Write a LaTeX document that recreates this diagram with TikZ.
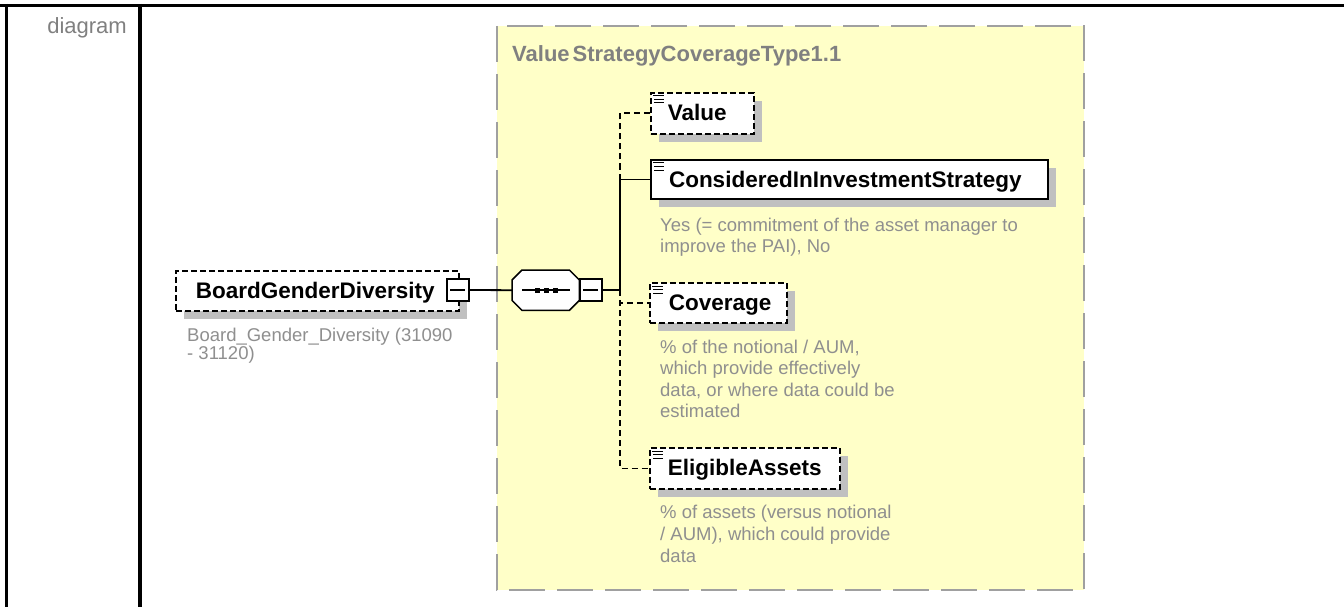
\documentclass[tikz,border=0pt]{standalone}
\usepackage{fontspec}
\setmainfont{Liberation Sans}
\usetikzlibrary{calc,shadows}
\definecolor{typebg}{RGB}{255,255,200}
\definecolor{typeborder}{RGB}{160,160,160}
\definecolor{desctext}{RGB}{143,143,143}
\definecolor{titlegray}{RGB}{128,128,128}
\definecolor{shadowgray}{RGB}{192,192,192}
\newcommand\contenticon[1]{%
  \draw[line width=1pt] ($(#1.north west)+(3,4)$) -- ++(11,0)
    ($(#1.north west)+(4,7.5)$) -- ++(10,0)
    ($(#1.north west)+(4,11)$) -- ++(10,0);}
\newcommand\minusdeco[1]{%
  \draw[line width=2.5pt] ([xshift=-1pt]#1.north east) -- ([xshift=-1pt,yshift=1pt]#1.south east) -- ([yshift=1pt]#1.south west);
  \draw[line width=1.2pt] ($(#1.west)+(4,0)$) -- ($(#1.east)+(-5,0)$);}
\begin{document}
\begin{tikzpicture}[x=1pt,y=-1pt,
  elembox/.style={draw, fill=white, anchor=north west, inner ysep=0pt, align=left,
    text height=16pt, text depth=1pt, font=\fontsize{22.5}{26}\selectfont\bfseries,
    drop shadow={shadow xshift=8pt, shadow yshift=-8pt, fill=shadowgray, opacity=1}},
  optbox/.style={elembox, line width=1.8pt, dash pattern=on 6pt off 3pt},
  reqbox/.style={elembox, line width=2pt},
  minusbox/.style={draw, fill=white, line width=1.5pt, minimum size=22pt, inner sep=0pt},
  conn/.style={line width=1.8pt},
  optconn/.style={line width=1.8pt, dash pattern=on 6pt off 4pt},
  desc/.style={anchor=north west, inner sep=0pt, align=left, text=desctext},
  frameline/.style={line width=3.5pt}
]
\useasboundingbox (0,0) rectangle (1344,607);
\fill[white] (0,0) rectangle (1344,607);
% table frame
\draw[frameline] (0,5.5) -- (1344,5.5);
\draw[frameline] (6.5,4) -- (6.5,607);
\draw[frameline] (140,4) -- (140,607);
\node[anchor=base east, text=titlegray, font=\fontsize{22}{26}\selectfont, inner sep=0pt] (lbl) at (127,33.5) {diagram};
% complex type box
\draw[fill=typebg, draw=typeborder, line width=2.5pt, dash pattern=on 36pt off 12pt] (497,26) rectangle (1084,590);
\node[anchor=base west, inner sep=0pt, text=titlegray, font=\fontsize{22}{26}\selectfont\bfseries] (title) at (512,62) {Value\kern3pt StrategyCoverageType1.1};
% root element
\node[optbox, text width=243pt, inner xsep=20pt, minimum height=40pt] (board) at (175,270) {BoardGenderDiversity};
\node[minusbox] (bmin) at (458,290) {};
\minusdeco{bmin}
\node[desc, font=\fontsize{18.5}{18.5}\selectfont] (bdesc) at (187,327.5) {Board\_Gender\_Diversity (31090\\- 31120)};
% sequence
\node[minimum width=67pt, minimum height=40pt, inner sep=0pt, anchor=north west] (seq) at (512,270) {};
\begin{scope}[shift={(8,8)}]
\fill[shadowgray] ($(seq.north west)+(10,0)$) -- ($(seq.north east)+(-10,0)$) -- ($(seq.north east)+(0,10)$) -- ($(seq.south east)+(0,-10)$) -- ($(seq.south east)+(-10,0)$) -- ($(seq.south west)+(10,0)$) -- ($(seq.south west)+(0,-10)$) -- ($(seq.north west)+(0,10)$) -- cycle;
\end{scope}
\draw[fill=white, line width=1.5pt] ($(seq.north west)+(10,0)$) -- ($(seq.north east)+(-10,0)$) -- ($(seq.north east)+(0,10)$) -- ($(seq.south east)+(0,-10)$) -- ($(seq.south east)+(-10,0)$) -- ($(seq.south west)+(10,0)$) -- ($(seq.south west)+(0,-10)$) -- ($(seq.north west)+(0,10)$) -- cycle;
\draw[line width=1.5pt] ($(seq.west)+(10,0)$) -- ($(seq.east)+(-9,0)$);
\foreach \dx in {25,34,43} \fill ($(seq.west)+(\dx,0)+(-2.5,-2.5)$) rectangle ++(5,5);
\node[minusbox] (smin) at (591,290) {};
\minusdeco{smin}
\draw[conn] (bmin.east) -- (seq.west);
% children
\node[optbox, text width=69pt, inner xsep=17pt, minimum height=41pt] (value) at (650,92) {Value};
\node[reqbox, text width=361pt, inner xsep=18pt, minimum height=39pt] (considered) at (650,159) {ConsideredInInvestmentStrategy};
\node[desc, font=\fontsize{18.5}{21}\selectfont] (cdesc) at (660,217.5) {Yes (= commitment of the asset manager to\\improve the PAI), No};
\node[optbox, text width=99pt, inner xsep=19pt, minimum height=40pt] (coverage) at (649,282) {Coverage};
\node[desc, font=\fontsize{18.5}{21.5}\selectfont] (covdesc) at (660,339.5) {\% of the notional / AUM,\\which provide effectively\\data, or where data could be\\estimated};
\node[optbox, text width=154pt, inner xsep=18pt, minimum height=41pt] (eligible) at (649,447) {EligibleAssets};
\node[desc, font=\fontsize{18.5}{22}\selectfont] (edesc) at (660,504.5) {\% of assets (versus notional\\/ AUM), which could provide\\data};
\contenticon{value}
\contenticon{considered}
\contenticon{coverage}
\contenticon{eligible}
% connectors
\coordinate (busC) at ([xshift=-30pt]considered.west);
\coordinate (busS) at (busC |- smin.east);
\draw[conn] (smin.east) -- (busS) -- (busC) -- (considered.west);
\draw[optconn] (busC) |- (value.west);
\draw[optconn] (busS) |- (coverage.west);
\draw[optconn] (busS) |- (eligible.west);
\end{tikzpicture}
\end{document}
